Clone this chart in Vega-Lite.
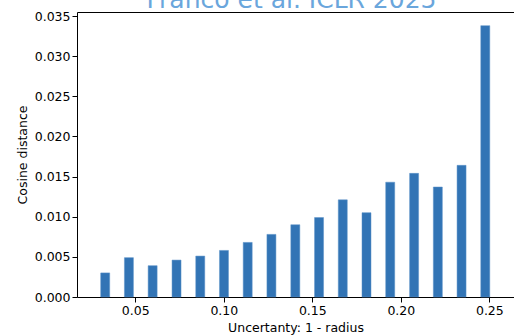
{
  "$schema": "https://vega.github.io/schema/vega-lite/v6.json",
  "autosize": {"type": "none"},
  "padding": {"left": 77, "top": 12, "right": 0, "bottom": 39},
  "width": 437,
  "height": 285,
  "background": "white",
  "title": {
    "text": "Franco et al. ICLR 2025",
    "fontSize": 25,
    "font": "DejaVu Sans",
    "fontWeight": "normal",
    "color": "#6aa6dc",
    "anchor": "middle",
    "baseline": "alphabetic",
    "offset": -23,
    "dx": -4
  },
  "config": {
    "view": {"stroke": "#000", "strokeWidth": 1},
    "axis": {
      "labelFont": "DejaVu Sans",
      "titleFont": "DejaVu Sans",
      "labelFontSize": 12.5,
      "titleFontSize": 12.5,
      "titleFontWeight": "normal",
      "labelColor": "#000",
      "titleColor": "#000",
      "tickColor": "#000",
      "tickSize": 5,
      "labelPadding": 2,
      "grid": false,
      "domain": false
    }
  },
  "data": {
    "values": [
      {"u": 0.0330, "d": 0.0030},
      {"u": 0.0464, "d": 0.0049},
      {"u": 0.0598, "d": 0.0039},
      {"u": 0.0733, "d": 0.0046},
      {"u": 0.0867, "d": 0.0051},
      {"u": 0.1001, "d": 0.0058},
      {"u": 0.1135, "d": 0.0068},
      {"u": 0.1269, "d": 0.0078},
      {"u": 0.1404, "d": 0.0090},
      {"u": 0.1538, "d": 0.0099},
      {"u": 0.1672, "d": 0.0121},
      {"u": 0.1806, "d": 0.0105},
      {"u": 0.1940, "d": 0.0143},
      {"u": 0.2075, "d": 0.0154},
      {"u": 0.2209, "d": 0.0137},
      {"u": 0.2343, "d": 0.0164},
      {"u": 0.2477, "d": 0.0338}
    ]
  },
  "mark": {"type": "bar", "width": 9, "color": "#3274b5", "stroke": "#5d93c8", "strokeWidth": 0.5},
  "encoding": {
    "x": {
      "field": "u",
      "type": "quantitative",
      "scale": {"domain": [0.0199, 0.2611], "nice": false, "zero": false},
      "axis": {
        "title": "Uncertanty: 1 - radius",
        "values": [0.05, 0.1, 0.15, 0.2, 0.25],
        "format": ".2f",
        "titlePadding": 5
      }
    },
    "y": {
      "field": "d",
      "type": "quantitative",
      "scale": {"domain": [0, 0.0355], "nice": false},
      "axis": {
        "title": "Cosine distance",
        "values": [0, 0.005, 0.01, 0.015, 0.02, 0.025, 0.03, 0.035],
        "format": ".3f",
        "titlePadding": 5
      }
    }
  }
}
